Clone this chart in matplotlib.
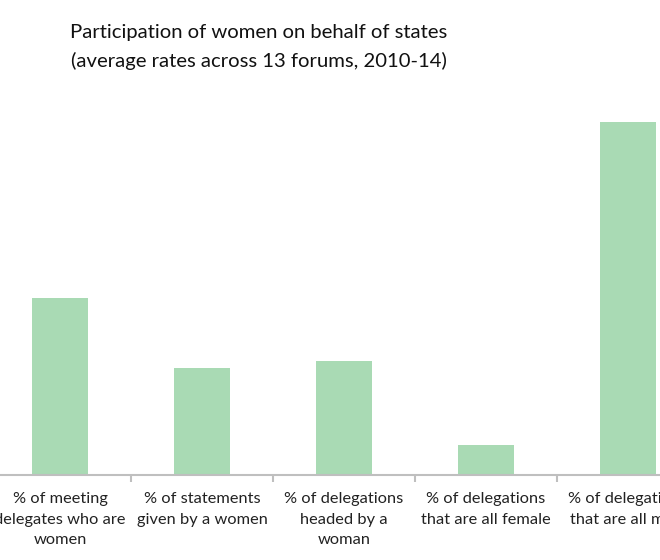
#!/usr/bin/env python3

from matplotlib import pyplot as plt

import numpy as np


categories = [
    '% of meeting\ndelegates who are\nwomen',
    '% of statements\ngiven by a women',
    '% of delegations\nheaded by a\nwoman',
    '% of delegations\nthat are all female',
    '% of delegations\nthat are all male',
]
values = [25.1, 15.2, 16.1, 4.2, 50.0]  # percent

plt.rcParams['font.family'] = ['Lato', 'DejaVu Sans']

fig = plt.figure(figsize=(6.6, 5.6), dpi=100)
# axes run past the picture edges, as in the cropped original
ax = fig.add_axes([0.0, 0.1518, 1.0, 0.693])

x = np.arange(len(categories))
ax.bar(x, values, width=0.39, color='#a9dab4', zorder=2)

ax.set_xlim(-60 / 142, 600 / 142)
ax.set_ylim(0, 55)

for side in ('left', 'right', 'top'):
    ax.spines[side].set_visible(False)
ax.spines['bottom'].set_color('#bfbfbf')
ax.spines['bottom'].set_linewidth(1.5)

ax.set_yticks([])
ax.set_xticks(x)
ax.set_xticklabels(categories, fontsize=11.8, color='#222222', linespacing=1.58)
ax.tick_params(axis='x', which='major', length=0, pad=12.5)
ax.set_xticks(x[:-1] + 0.5, minor=True)
ax.tick_params(axis='x', which='minor', length=5, width=1.5, color='#bfbfbf')

fig.text(0.392, 0.916, 'Participation of women on behalf of states\n'
         '(average rates across 13 forums, 2010-14)',
         ha='center', va='center', fontsize=14.6, color='#111111', linespacing=1.75)

plt.savefig('out.png', dpi=100)
